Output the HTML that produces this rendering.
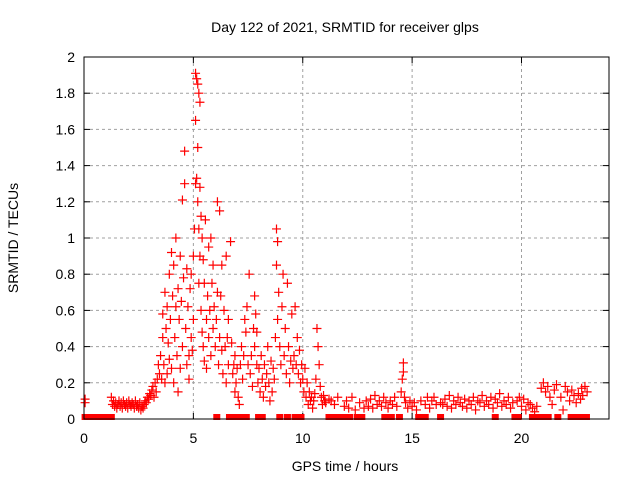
<!DOCTYPE html>
<html><head><meta charset="utf-8"><style>
body{margin:0;background:#fff}
svg{display:block;font-family:"Liberation Sans",sans-serif}
</style></head><body>
<svg id="chart" width="640" height="480">
<rect width="640" height="480" fill="#fff"/>
<text x="345" y="32" font-size="14" text-anchor="middle">Day 122 of 2021, SRMTID for receiver glps</text>
<text x="345" y="471" font-size="14" text-anchor="middle">GPS time / hours</text>
<text transform="translate(18,238) rotate(-90)" font-size="14" text-anchor="middle">SRMTID / TECUs</text>
<g id="grid"></g><g id="ticks"></g><g id="marks"></g>
<rect x="84" y="57" width="525" height="362" fill="none" stroke="#000" stroke-width="1"/>
</svg>
<script>
const xTicks=[0,5,10,15,20];
const yTicks=[0,0.2,0.4,0.6,0.8,1,1.2,1.4,1.6,1.8,2];
const yTickLabels=["0","0.2","0.4","0.6","0.8","1","1.2","1.4","1.6","1.8","2"];
const hours=[
0.05,0.05,1.25,1.3,1.35,1.4,1.45,1.5,1.55,1.6,
1.65,1.7,1.75,1.8,1.85,1.9,1.95,2.0,2.05,2.1,
2.15,2.2,2.25,2.3,2.35,2.4,2.45,2.5,2.55,2.6,
2.65,2.7,2.75,2.8,2.85,2.9,2.95,3.0,3.05,3.1,
3.15,3.2,3.25,3.3,3.35,3.4,3.45,3.5,3.55,3.6,
3.6,3.65,3.7,3.7,3.75,3.8,3.8,3.85,3.9,3.9,
3.95,4.0,4.0,4.05,4.1,4.1,4.15,4.2,4.2,4.25,
4.3,4.3,4.35,4.4,4.4,4.45,4.5,4.5,4.55,4.6,
4.6,4.65,4.7,4.7,4.75,4.8,4.8,4.85,4.9,4.9,
4.95,5.0,5.0,5.05,5.1,5.1,5.1,5.15,5.15,5.2,
5.2,5.2,5.25,5.25,5.25,5.3,5.3,5.3,5.35,5.35,
5.4,5.4,5.45,5.45,5.5,5.5,5.55,5.6,5.6,5.65,
5.7,5.7,5.75,5.8,5.8,5.85,5.9,5.9,5.95,6.0,
6.05,6.1,6.1,6.15,6.2,6.2,6.25,6.3,6.3,6.35,
6.4,6.45,6.5,6.5,6.55,6.6,6.6,6.7,6.75,6.8,
6.85,6.9,6.9,6.95,7.0,7.05,7.1,7.15,7.2,7.25,
7.3,7.35,7.4,7.45,7.5,7.55,7.6,7.65,7.7,7.75,
7.8,7.8,7.85,7.9,7.9,7.95,8.0,8.05,8.1,8.15,
8.2,8.25,8.3,8.35,8.4,8.45,8.5,8.55,8.6,8.65,
8.7,8.75,8.8,8.8,8.85,8.85,8.9,8.95,9.0,9.05,
9.1,9.15,9.2,9.25,9.3,9.35,9.4,9.45,9.5,9.55,
9.6,9.65,9.7,9.75,9.8,9.85,9.9,9.95,10.0,10.05,
10.1,10.15,10.2,10.25,10.3,10.35,10.4,10.45,10.5,10.55,
10.6,10.65,10.7,10.75,10.8,10.85,10.9,10.95,11.0,11.05,
11.3,11.45,11.6,11.9,12.0,12.1,12.25,12.4,12.6,12.9,
13.0,13.1,13.2,13.3,13.4,13.5,13.6,13.7,13.8,13.9,
14.0,14.1,14.2,14.3,14.5,14.55,14.6,14.6,14.65,14.7,
14.8,14.9,15.0,15.1,15.2,15.4,15.6,15.7,15.8,15.9,
16.0,16.1,16.3,16.5,16.6,16.7,16.8,16.9,17.0,17.1,
17.2,17.3,17.4,17.5,17.6,17.7,17.8,17.9,18.0,18.1,
18.2,18.3,18.4,18.5,18.6,18.7,18.8,18.9,19.0,19.1,
19.2,19.3,19.4,19.5,19.6,19.8,20.0,20.1,20.2,20.3,
20.4,20.5,20.6,20.7,20.9,21.0,21.1,21.2,21.3,21.4,
21.5,21.6,21.8,21.9,22.0,22.1,22.2,22.3,22.4,22.5,
22.6,22.7,22.75,22.8,22.9,23.0,11.2,12.8,16.4,19.9];
const srmtid=[
0.11,0.09,0.12,0.08,0.1,0.07,0.09,0.06,0.08,0.1,
0.07,0.09,0.06,0.1,0.08,0.07,0.09,0.06,0.1,0.08,
0.07,0.09,0.08,0.06,0.1,0.07,0.08,0.06,0.09,0.05,
0.07,0.06,0.08,0.1,0.09,0.12,0.11,0.14,0.13,0.16,
0.18,0.12,0.2,0.15,0.22,0.3,0.25,0.35,0.22,0.45,
0.58,0.3,0.7,0.2,0.5,0.25,0.62,0.42,0.8,0.33,
0.55,0.92,0.28,0.68,0.85,0.2,0.45,1.0,0.62,0.35,
0.72,0.15,0.55,0.9,0.28,0.65,1.21,0.4,0.78,1.3,
1.48,0.5,0.83,0.3,0.62,0.35,0.22,0.72,0.45,0.8,
0.38,0.9,0.55,1.05,1.91,1.65,1.3,1.88,1.33,1.85,
1.5,1.2,1.8,1.05,0.75,1.75,1.28,0.9,1.12,0.6,
1.0,0.48,0.88,0.4,0.75,0.32,1.1,0.55,0.28,0.68,
0.95,0.45,0.6,1.0,0.35,0.75,0.5,0.85,0.62,0.4,
0.55,1.2,0.7,0.3,1.15,0.45,0.68,0.38,0.85,0.25,
0.6,0.4,0.9,0.2,0.45,0.3,0.55,0.98,0.42,0.25,
0.3,0.15,0.35,0.2,0.28,0.12,0.08,0.3,0.4,0.22,
0.35,0.55,0.48,0.62,0.3,0.8,0.25,0.35,0.18,0.5,
0.68,0.4,0.58,0.3,0.48,0.2,0.28,0.15,0.35,0.22,
0.12,0.3,0.18,0.25,0.4,0.2,0.1,0.32,0.15,0.28,
0.22,0.45,1.05,0.85,0.98,0.55,0.7,0.4,0.3,0.62,
0.8,0.35,0.5,0.25,0.75,0.4,0.2,0.32,0.58,0.28,
0.35,0.62,0.3,0.45,0.25,0.38,0.2,0.3,0.22,0.15,
0.28,0.12,0.2,0.08,0.15,0.1,0.12,0.06,0.1,0.14,
0.22,0.5,0.4,0.3,0.18,0.12,0.08,0.13,0.1,0.09,
0.1,0.08,0.12,0.07,0.1,0.06,0.12,0.05,0.09,0.1,
0.07,0.11,0.06,0.13,0.08,0.1,0.07,0.12,0.09,0.06,
0.1,0.08,0.12,0.07,0.15,0.22,0.31,0.26,0.12,0.09,
0.06,0.1,0.07,0.09,0.05,0.1,0.08,0.12,0.06,0.1,
0.12,0.08,0.09,0.11,0.07,0.13,0.06,0.1,0.08,0.12,
0.09,0.07,0.11,0.06,0.1,0.08,0.12,0.05,0.1,0.09,
0.13,0.07,0.1,0.08,0.12,0.06,0.11,0.09,0.14,0.07,
0.1,0.08,0.12,0.06,0.09,0.1,0.07,0.11,0.05,0.09,
0.08,0.06,0.04,0.07,0.17,0.2,0.15,0.18,0.12,0.08,
0.16,0.19,0.12,0.05,0.18,0.15,0.1,0.16,0.13,0.09,
0.14,0.11,0.17,0.13,0.18,0.15,0.11,0.06,0.08,0.12];
const zeroHours=[0.05,0.15,0.25,0.35,0.45,0.55,0.65,0.75,0.85,0.95,1.05,1.15,1.25,
6.07,6.65,6.72,7.02,7.08,7.32,7.42,7.98,8.05,8.15,8.95,9.3,9.65,9.92,
11.2,11.35,11.5,11.65,11.95,12.15,12.5,12.7,13.75,13.9,14.05,14.42,
15.3,15.45,15.6,16.3,18.8,19.7,19.85,20.5,20.8,20.95,21.1,21.22,21.66,
22.27,22.55,22.7,22.85,22.97];

const X0=84,X1=609,Y0=419,Y1=57;
function xs(h){return X0+(h/24)*(X1-X0);}
function ys(v){return Y0-(v/2)*(Y0-Y1);}
const NS="http://www.w3.org/2000/svg";
function mk(tag,attrs,parent){const e=document.createElementNS(NS,tag);for(const k in attrs)e.setAttribute(k,attrs[k]);parent.appendChild(e);return e;}
const grid=document.getElementById('grid'),ticks=document.getElementById('ticks'),marks=document.getElementById('marks');
yTicks.forEach((v,i)=>{
  const y=ys(v);
  if(i>0&&i<yTicks.length-1){
    const g=mk('line',{x1:X0,x2:X1,y1:y,y2:y,stroke:'#a0a0a0','stroke-dasharray':'3,3'},grid);
    
    
  }
  mk('line',{x1:X0,x2:X0+6,y1:y,y2:y,stroke:'#000'},ticks);
  mk('line',{x1:X1-6,x2:X1,y1:y,y2:y,stroke:'#000'},ticks);
  const t=mk('text',{x:X0-9,y:y+5,'font-size':14,'text-anchor':'end'},ticks);
  t.textContent=yTickLabels[i];
  
  
});
xTicks.forEach((h)=>{
  const x=xs(h);
  if(h>0){
    const g=mk('line',{x1:x,x2:x,y1:Y1,y2:Y0,stroke:'#a0a0a0','stroke-dasharray':'3,3'},grid);
    
    
  }
  mk('line',{x1:x,x2:x,y1:Y0,y2:Y0-6,stroke:'#000'},ticks);
  mk('line',{x1:x,x2:x,y1:Y1,y2:Y1+6,stroke:'#000'},ticks);
  const t=mk('text',{x:x,y:443,'font-size':14,'text-anchor':'middle'},ticks);
  t.textContent=String(h);
  
  
});
function plus(x,y,name){
  const p=mk('path',{d:`M${x-4.5},${y}H${x+4.5}M${x},${y-4.5}V${y+4.5}`,stroke:'#ff0000','stroke-width':1.2,fill:'none'},marks);
  
  
}
hours.forEach((h,i)=>plus(xs(h),ys(srmtid[i]),'srmtid-point'));
zeroHours.forEach(h=>{
  const r=mk('rect',{x:xs(h)-3.5,y:Y0-5,width:7,height:6,fill:'#ff0000'},marks);
  
  
});
</script>
</body></html>
